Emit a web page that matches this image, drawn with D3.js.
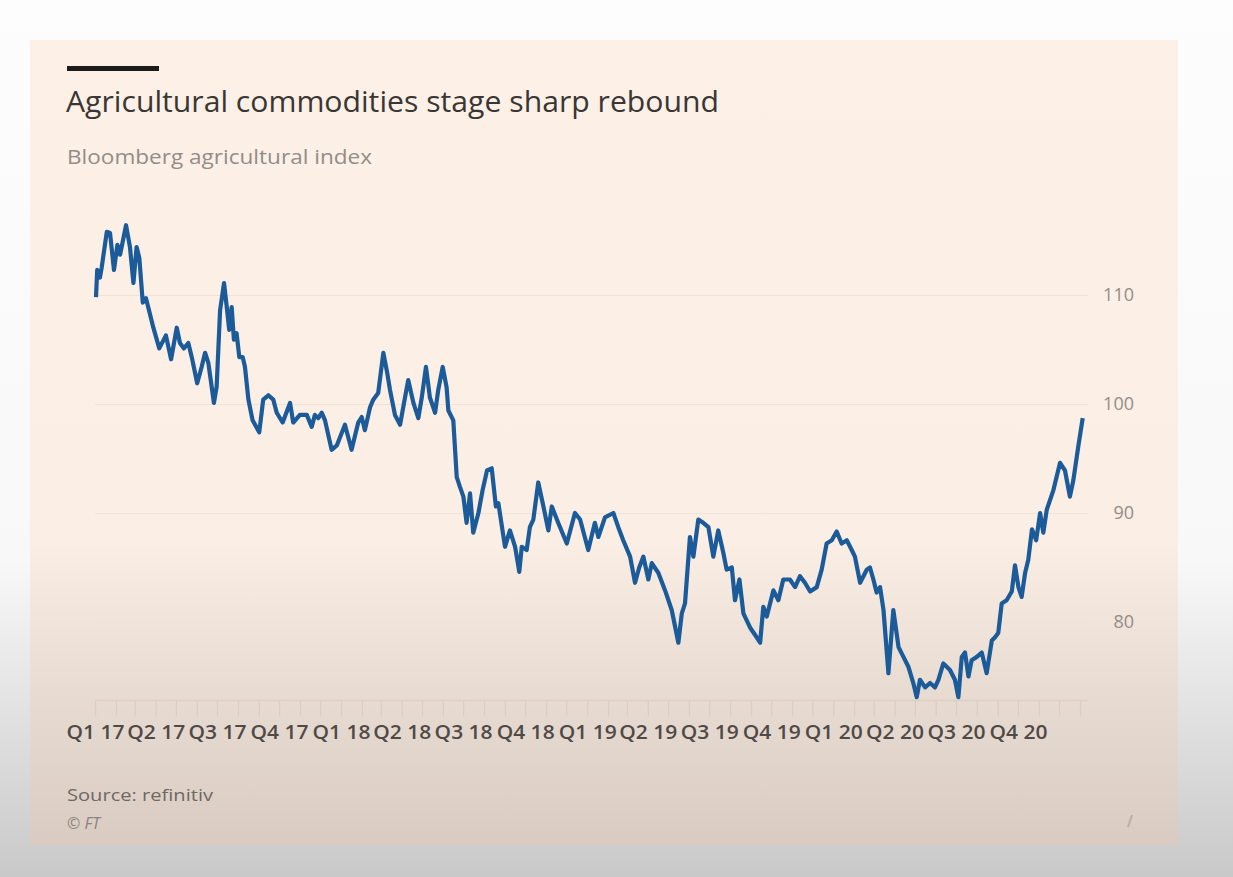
<!DOCTYPE html>
<html>
<head>
<meta charset="utf-8">
<script src="https://cdn.jsdelivr.net/npm/d3@7"></script>
<style>
body{margin:0;background:#fff;}
svg{display:block;font-family:"Open Sans",sans-serif;}
</style>
</head>
<body>
<script>
// years since 1 Jan 2017
var yearOffsets = [
  0.004,0.009,0.020,0.027,0.048,0.061,0.077,0.091,0.102,0.126,0.142,0.156,0.169,0.180,0.194,0.207,0.216,0.237,0.261,0.288,
  0.309,0.332,0.345,0.361,0.379,0.393,0.415,0.433,0.447,0.460,0.483,0.494,0.508,0.524,0.535,0.545,0.555,0.564,0.575,0.586,
  0.600,0.609,0.623,0.640,0.667,0.683,0.704,0.724,0.738,0.762,0.792,0.805,0.832,0.860,0.880,0.893,0.907,0.921,0.934,0.961,
  0.982,1.015,1.042,1.069,1.083,1.096,1.117,1.130,1.150,1.171,1.187,1.198,1.218,1.239,1.259,1.272,1.293,1.313,1.327,1.344,
  1.360,1.381,1.394,1.412,1.428,1.435,1.455,1.469,1.482,1.496,1.509,1.523,1.536,1.557,1.574,1.592,1.611,1.628,1.638,1.665,
  1.685,1.706,1.723,1.733,1.753,1.766,1.780,1.800,1.821,1.841,1.855,1.881,1.916,1.949,1.970,2.003,2.030,2.044,2.071,2.105,
  2.125,2.145,2.173,2.193,2.210,2.227,2.247,2.261,2.288,2.315,2.342,2.369,2.383,2.396,2.416,2.430,2.450,2.470,2.491,2.511,
  2.531,2.552,2.565,2.586,2.599,2.617,2.633,2.660,2.687,2.701,2.714,2.728,2.755,2.775,2.795,2.822,2.843,2.863,2.883,2.904,
  2.931,2.951,2.971,2.992,3.012,3.032,3.053,3.073,3.086,3.107,3.134,3.147,3.161,3.174,3.188,3.202,3.222,3.242,3.263,3.283,
  3.303,3.323,3.337,3.350,3.371,3.391,3.411,3.425,3.445,3.472,3.492,3.506,3.520,3.533,3.547,3.560,3.581,3.601,3.621,3.642,
  3.655,3.668,3.682,3.702,3.723,3.736,3.750,3.763,3.777,3.790,3.805,3.822,3.838,3.851,3.865,3.892,3.919,3.939,3.959,3.973,
  3.993,4.011
];
var indexValues = [
  109.8,112.3,111.6,112.5,115.8,115.7,112.3,114.6,113.7,116.4,114.4,111.1,114.4,113.4,109.3,109.7,108.9,107.0,105.1,106.3,
  104.1,107.0,105.6,105.1,105.6,104.3,101.9,103.4,104.7,103.8,100.1,101.6,108.6,111.1,108.9,106.8,108.9,105.9,106.5,104.3,
  104.3,103.4,100.4,98.5,97.4,100.4,100.8,100.4,99.2,98.3,100.1,98.3,99.0,99.0,97.9,99.0,98.7,99.2,98.5,95.8,
  96.2,98.1,95.8,98.3,98.8,97.6,99.7,100.4,101.0,104.7,102.8,101.3,99.0,98.1,100.6,102.2,100.1,98.7,100.6,103.4,
  100.6,99.2,101.3,103.4,101.5,99.4,98.5,93.3,92.4,91.5,89.1,91.8,88.2,90.0,92.1,93.9,94.1,90.6,90.9,86.9,
  88.4,86.9,84.6,86.9,86.6,88.7,89.4,92.8,90.6,88.4,90.6,89.1,87.2,90.0,89.4,86.6,89.1,87.8,89.6,90.0,
  88.7,87.5,86.0,83.6,85.0,86.0,83.9,85.4,84.5,82.9,81.1,78.1,80.8,81.7,87.8,86.0,89.4,89.1,88.7,86.0,
  88.4,86.3,84.8,85.0,82.0,83.9,80.8,79.5,78.6,78.1,81.4,80.5,82.9,82.0,83.9,83.9,83.2,84.2,83.6,82.8,
  83.2,84.8,87.2,87.5,88.3,87.2,87.5,86.6,86.0,83.6,84.8,85.0,83.9,82.7,83.2,81.1,75.3,81.1,77.7,76.8,
  75.9,74.4,73.1,74.7,74.0,74.4,74.0,74.7,76.2,75.6,74.7,73.1,76.8,77.2,75.0,76.5,76.8,77.2,75.3,78.3,
  78.6,79.0,81.7,82.0,82.8,85.2,83.2,82.3,84.5,85.7,88.5,87.5,90.0,88.2,90.3,92.1,94.6,93.9,91.5,93.0,
  96.1,98.7
];
var quarterLabels = ["Q1 17","Q2 17","Q3 17","Q4 17","Q1 18","Q2 18","Q3 18","Q4 18",
                     "Q1 19","Q2 19","Q3 19","Q4 19","Q1 20","Q2 20","Q3 20","Q4 20"];
var yTicks = [80, 90, 100, 110];

var W = 1233, H = 877;
var start = new Date(Date.UTC(2017,0,1)), end = new Date(Date.UTC(2021,0,1));
var data = yearOffsets.map(function(o,i){
  return {date: new Date(start.getTime() + o*365.25*864e5), value: indexValues[i]};
});

var svg = d3.select("body").append("svg").attr("width",W).attr("height",H);
var defs = svg.append("defs");

var bg = defs.append("linearGradient").attr("id","bg").attr("x1",0).attr("y1",0).attr("x2",0).attr("y2",1);
bg.append("stop").attr("offset","0").attr("stop-color","#fdfdfd");
bg.append("stop").attr("offset","0.64").attr("stop-color","#f8f8f8");
bg.append("stop").attr("offset","1").attr("stop-color","#c9c9c9");

var pg = defs.append("linearGradient").attr("id","panel").attr("gradientUnits","userSpaceOnUse")
  .attr("x1",0).attr("y1",40).attr("x2",0).attr("y2",845);
pg.append("stop").attr("offset","0").attr("stop-color","#fdf1e7");
pg.append("stop").attr("offset","0.62").attr("stop-color","#fbeee4");
pg.append("stop").attr("offset","0.8").attr("stop-color","#e9ddd3");
pg.append("stop").attr("offset","1").attr("stop-color","#d9cbc1");

svg.append("rect").attr("width",W).attr("height",H).attr("fill","url(#bg)");
svg.append("rect").attr("x",30).attr("y",40).attr("width",1148).attr("height",805).attr("fill","url(#panel)");

// header
svg.append("rect").attr("x",67).attr("y",66).attr("width",92).attr("height",5).attr("fill","#1d1b1a");
svg.append("text").attr("x",66).attr("y",112).attr("font-size",29).attr("fill","#3a3633")
  .attr("textLength",653).attr("lengthAdjust","spacingAndGlyphs")
  .text("Agricultural commodities stage sharp rebound");
svg.append("text").attr("x",67).attr("y",164).attr("font-size",20).attr("fill","#938c87")
  .attr("textLength",305).attr("lengthAdjust","spacingAndGlyphs")
  .text("Bloomberg agricultural index");

var x = d3.scaleUtc().domain([start, end]).range([95, 1080]);
var y = d3.scaleLinear().domain([70, 120]).range([731, 186]);

// gridlines
svg.append("g").attr("transform","translate(1088,0)")
  .call(d3.axisLeft(y).tickValues(yTicks).tickSize(1088-95).tickFormat(""))
  .call(function(g){
    g.select(".domain").remove();
    g.selectAll("line").attr("stroke","#efe2d6").attr("stroke-width",1.2);
  });

// y labels
svg.append("g").attr("transform","translate(1134,0)")
  .call(d3.axisLeft(y).tickValues(yTicks).tickSize(0).tickPadding(0))
  .call(function(g){
    g.select(".domain").remove();
    g.selectAll("text").attr("font-family","'Open Sans',sans-serif").attr("font-size",18).attr("fill","#948d88");
  });

// x axis: monthly ticks
var baseY = y(72.8);
svg.append("g").attr("transform","translate(0,"+baseY+")")
  .call(d3.axisBottom(x).ticks(d3.utcMonth.every(1)).tickSize(16).tickFormat(""))
  .call(function(g){
    g.select(".domain").remove();
    g.selectAll("line").attr("stroke","#dccec2").attr("stroke-width",1.3);
  });
svg.append("line").attr("x1",95).attr("x2",1088).attr("y1",baseY).attr("y2",baseY)
  .attr("stroke","#dccec2").attr("stroke-width",1.5);

var quarters = d3.utcMonth.every(3).range(start, end);
svg.append("g").attr("transform","translate(0,"+baseY+")")
  .call(d3.axisBottom(x).tickValues(quarters).tickSize(0).tickPadding(25)
    .tickFormat(function(d,i){ return quarterLabels[i]; }))
  .call(function(g){
    g.select(".domain").remove();
    g.selectAll("text").attr("font-family","'Open Sans',sans-serif").attr("font-size",19)
      .attr("font-weight",600).attr("fill","#4f4a47")
      .attr("textLength",58).attr("lengthAdjust","spacingAndGlyphs");
  });

// the index line
var line = d3.line().x(function(d){return x(d.date);}).y(function(d){return y(d.value);});
svg.append("path").datum(data).attr("d",line).attr("fill","none")
  .attr("stroke","#1b5b9a").attr("stroke-width",4.2).attr("stroke-linejoin","round");

// footer
svg.append("text").attr("x",67).attr("y",801).attr("font-size",16).attr("fill","#6e6864")
  .attr("textLength",146).attr("lengthAdjust","spacingAndGlyphs")
  .text("Source: refinitiv");
svg.append("text").attr("x",67).attr("y",829).attr("font-size",16).attr("font-style","italic").attr("fill","#8a837e")
  .text("© FT");
svg.append("line").attr("x1",1128).attr("y1",827).attr("x2",1132).attr("y2",815)
  .attr("stroke","#b9aea5").attr("stroke-width",2);
</script>
</body>
</html>
